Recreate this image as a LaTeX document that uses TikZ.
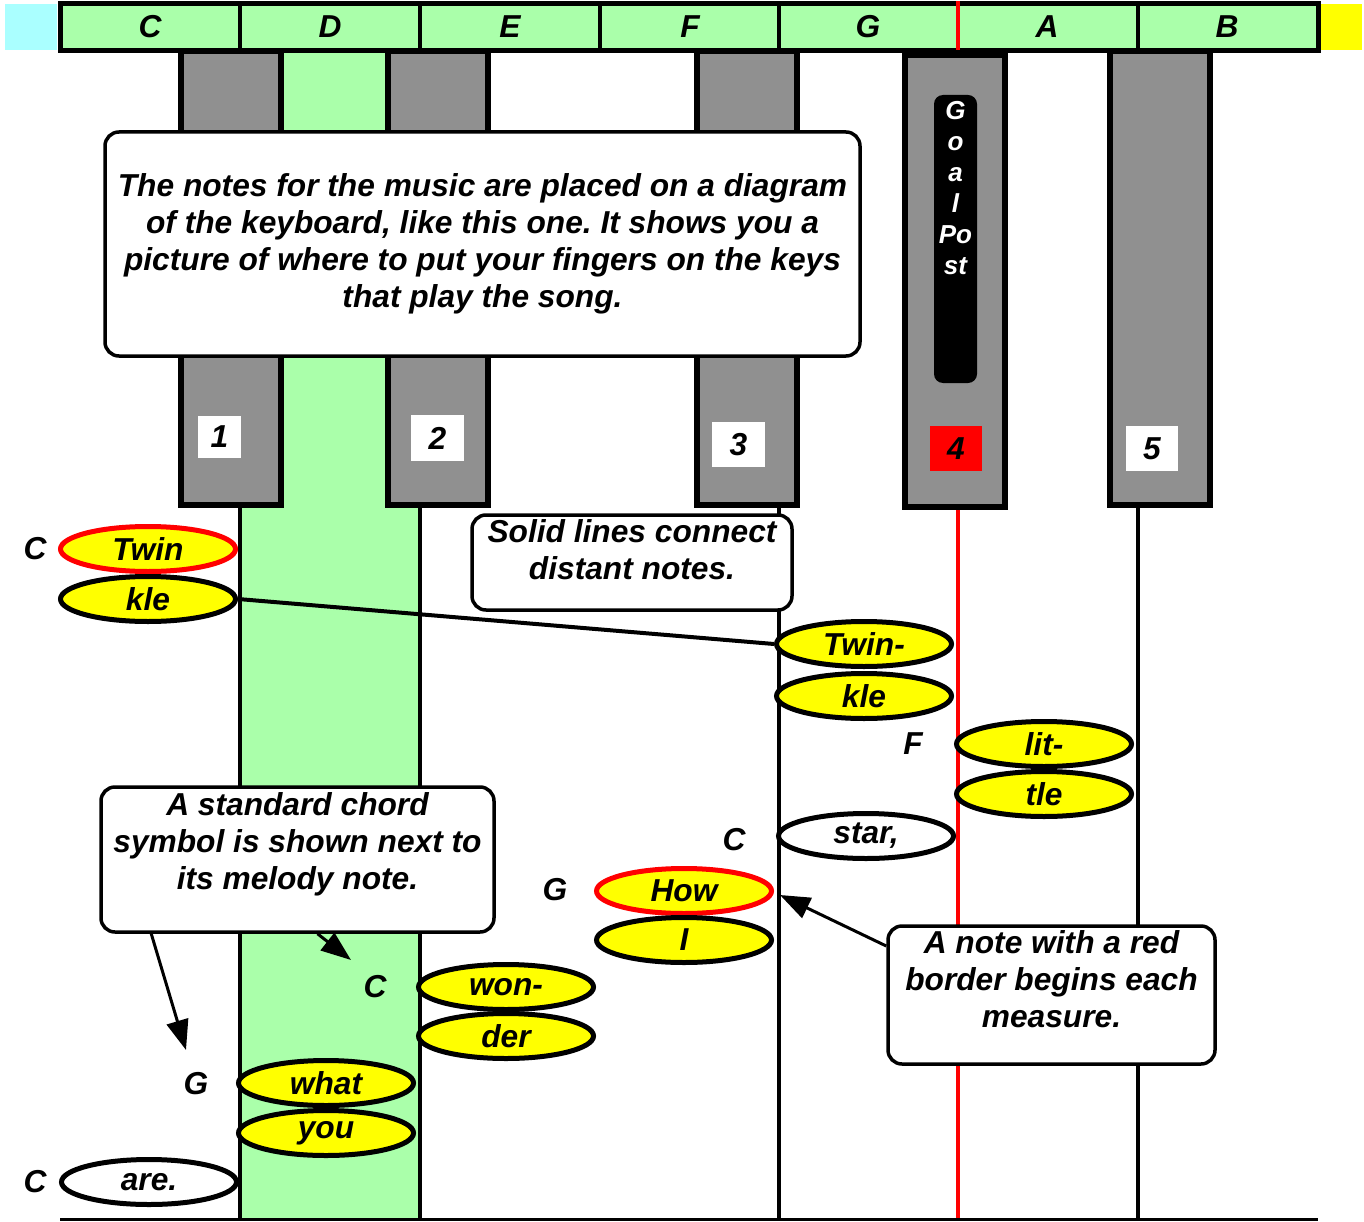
\documentclass[tikz,border=0pt]{standalone}
\usepackage{fontspec}
\setmainfont{Liberation Sans}
\usetikzlibrary{shapes.geometric,arrows.meta}
\definecolor{keygreen}{HTML}{AAFFAA}
\definecolor{keygrey}{HTML}{909090}
\definecolor{skycyan}{HTML}{AAFFFF}
\definecolor{noteyellow}{HTML}{FFFF00}
\newcommand{\dn}[1]{\vrule width 0pt height 0pt depth #1}
\frenchspacing
\begin{document}
\begin{tikzpicture}[x=1pt,y=-1pt,
  lab/.style={font=\fontsize{31.7}{37}\selectfont\bfseries\itshape\frenchspacing, inner sep=0pt},
  note/.style={ellipse, draw=black, line width=5pt, fill=noteyellow, minimum width=175pt, minimum height=45pt, inner sep=0pt, lab},
  rnote/.style={note, draw=red},
  wnote/.style={note, fill=white},
  keyrect/.style={draw=black, fill=keygrey, line width=5.5pt},
  callout/.style={draw=black, fill=white, line width=3.5pt, rounded corners=14pt, align=center, inner sep=0pt, lab},
  numbox/.style={fill=white, inner sep=0pt, lab},
  vline/.style={line width=4pt},
  conn/.style={line width=4pt},
  arr/.style={line width=3pt, -{Triangle[length=30pt,width=22pt]}}
]
\useasboundingbox (0,0) rectangle (1364,1222);

% D column background
\fill[keygreen] (240,51) rectangle (420,1219);

% vertical lines below the keys
\foreach \x in {240,420,779,1138} \draw[vline] (\x,500) -- (\x,1219);
\draw[vline, draw=red, line width=3.5pt] (958,500) -- (958,1219);
\draw[line width=3pt] (60,1219) -- (1318,1219);

% top bar
\fill[skycyan] (5,4) rectangle (57,50);
\fill[noteyellow] (1321,4) rectangle (1362,50);
\draw[line width=5pt, fill=keygreen] (60.5,3.5) rectangle (1318,50.5);
\foreach \x in {240,420,600,779,1138} \draw[line width=4.5pt] (\x,3.5) -- (\x,50.5);
\draw[red, line width=3.5pt] (958,1.5) -- (958,50.5);
\node[lab] (bC) at (150,27) {C};
\node[lab] (bD) at (330,27) {D};
\node[lab] (bE) at (510,27) {E};
\node[lab] (bF) at (690,27) {F};
\node[lab] (bG) at (868,27) {G};
\node[lab] (bA) at (1047,27) {A};
\node[lab] (bB) at (1227,27) {B};

% black keys
\draw[keyrect] (181,51) rectangle (281,505);
\draw[keyrect] (388,51) rectangle (488,505);
\draw[keyrect] (697,51) rectangle (797,505);
\draw[keyrect] (905,55) rectangle (1005,507);
\draw[keyrect] (1110,51) rectangle (1210,505);

% finger numbers
\node[numbox, minimum width=43pt, minimum height=42pt] (n1) at (219.5,437) {1};
\node[numbox, minimum width=53pt, minimum height=46pt] (n2) at (437.5,438) {2};
\node[numbox, minimum width=53pt, minimum height=45pt] (n3) at (738.5,444.5) {3};
\node[numbox, fill=red, minimum width=52pt, minimum height=45pt] (n4) at (956,448.5) {4};
\node[numbox, minimum width=52pt, minimum height=45pt] (n5) at (1152,448.5) {5};

% goal post
\node[fill=black, text=white, rounded corners=9pt, minimum width=43pt, minimum height=288pt, inner sep=0pt, align=center,
      font=\fontsize{26}{31}\selectfont\bfseries\itshape] (goal) at (955.5,239) {G\\o\\a\\l\\Po\\st\dn{102pt}};

% callouts
\node[callout, minimum width=755pt, minimum height=224pt] (intro) at (482.5,244)
  {The notes for the music are placed on a diagram\\of the keyboard, like this one. It shows you a\\picture of where to put your fingers on the keys\\that play the song.};
\node[callout, minimum width=320pt, minimum height=95pt] (solid) at (632,562.5)
  {Solid lines connect\\distant notes.\dn{25pt}};
\node[callout, minimum width=393pt, minimum height=145pt] (chord) at (297.5,859.5)
  {A standard chord\\symbol is shown next to\\its melody note.\dn{36pt}};
\node[callout, minimum width=327pt, minimum height=138pt] (redbox) at (1051.5,995)
  {A note with a red\\border begins each\\measure.\dn{32pt}};

% notes
\node[rnote] (twin1) at (148,549) {Twin};
\node[note]  (kle1)  at (148,599) {kle};
\node[note]  (twin2) at (864,644) {Twin-};
\node[note]  (kle2)  at (864,696) {kle};
\node[note]  (lit)   at (1044,744) {lit-};
\node[note]  (tle)   at (1044,794) {tle};
\node[wnote] (star)  at (866,836) {star,};
\node[rnote] (how)   at (684,891) {How};
\node[note]  (nI)    at (684,940) {I};
\node[note]  (won)   at (506,987) {won-};
\node[note]  (der)   at (506,1036) {der};
\node[note]  (what)  at (326,1083) {what};
\node[note]  (you)   at (326,1133) {you};
\node[wnote] (are)   at (149,1182) {are.};

% chord symbols
\node[lab] (c1) at (35,549) {C};
\node[lab] (c2) at (913,744) {F};
\node[lab] (c3) at (734,840) {C};
\node[lab] (c4) at (555,890) {G};
\node[lab] (c5) at (375,987) {C};
\node[lab] (c6) at (196,1084) {G};
\node[lab] (c7) at (35,1182) {C};

% connector
\draw[conn] (kle1.east) -- (twin2.west);

% arrows
\coordinate (tipG) at (186,1050);
\coordinate (tipC) at (351,960);
\coordinate (tipHow) at (780,895);
\draw[arr] ([xshift=52pt]chord.south west) -- (tipG);
\draw[arr] ([xshift=20pt]chord.south) -- (tipC);
\draw[arr] ([yshift=49pt]redbox.west) -- (tipHow);
\end{tikzpicture}
\end{document}
